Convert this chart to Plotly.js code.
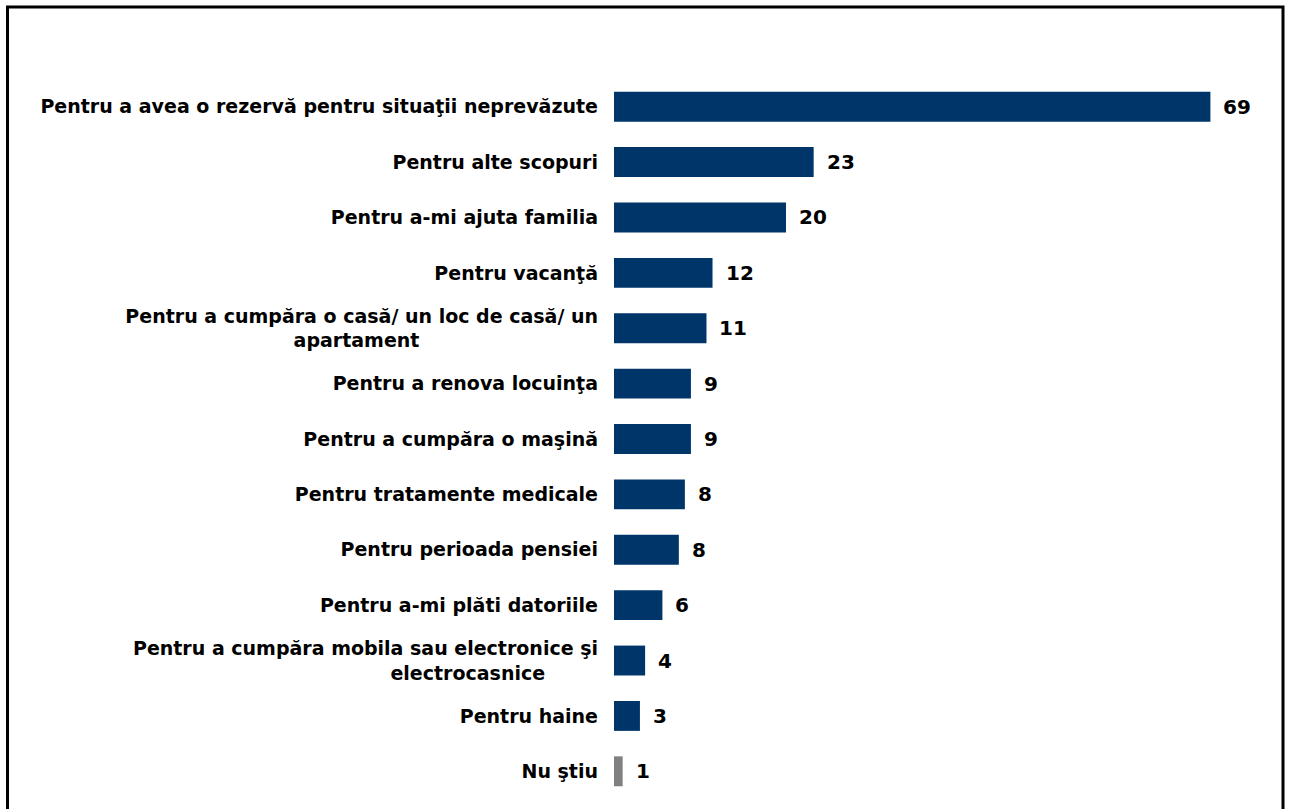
<!DOCTYPE html>
<html>
<head>
<meta charset="utf-8">
<script src="https://cdn.plot.ly/plotly-3.0.1.min.js"></script>
<style>
html,body{margin:0;padding:0;background:#fff;}
#chart{width:1293px;height:809px;}
</style>
</head>
<body>
<div id="chart"></div>
<script>
var categories = [
  "Pentru a avea o rezervă pentru situaţii neprevăzute",
  "Pentru alte scopuri",
  "Pentru a-mi ajuta familia",
  "Pentru vacanţă",
  "Pentru a cumpăra o casă/ un loc de casă/ un<br>apartament" + "\u00A0".repeat(27),
  "Pentru a renova locuinţa",
  "Pentru a cumpăra o maşină",
  "Pentru tratamente medicale",
  "Pentru perioada pensiei",
  "Pentru a-mi plăti datoriile",
  "Pentru a cumpăra mobila sau electronice şi<br>electrocasnice" + "\u00A0".repeat(8),
  "Pentru haine",
  "Nu ştiu"
];
var values = [69, 23.1, 19.9, 11.4, 10.7, 8.9, 8.9, 8.2, 7.5, 5.6, 3.6, 3.0, 1.0];
var valueLabels = ["69", "23", "20", "12", "11", "9", "9", "8", "8", "6", "4", "3", "1"];
var barColors = ["#00356a","#00356a","#00356a","#00356a","#00356a","#00356a","#00356a","#00356a","#00356a","#00356a","#00356a","#00356a","#808080"];

var ids = categories.map(function(c, i){ return "c" + i; });

var trace = {
  type: "bar",
  orientation: "h",
  x: values,
  y: ids,
  marker: {color: barColors},
  width: 0.54,
  hoverinfo: "none"
};

var annotations = values.map(function(v, i){
  return {
    x: v, y: ids[i], xref: "x", yref: "y",
    text: valueLabels[i], showarrow: false,
    xanchor: "left", yanchor: "middle", xshift: 11,
    font: {family: "DejaVu Sans", size: 20, color: "#000", weight: "bold"}
  };
});

var layout = {
  width: 1293, height: 809,
  margin: {l: 614, r: 10, t: 79, b: 10},
  paper_bgcolor: "#fff", plot_bgcolor: "#fff",
  showlegend: false,
  font: {family: "DejaVu Sans", color: "#000"},
  xaxis: {range: [0, 77.4], showgrid: false, zeroline: false, showticklabels: false, showline: false, fixedrange: true},
  yaxis: {
    type: "category", autorange: "reversed",
    tickvals: ids, ticktext: categories,
    showgrid: false, zeroline: false, showline: false, ticks: "",
    ticklabelstandoff: 15,
    tickfont: {family: "DejaVu Sans", size: 19, color: "#000", weight: "bold"}
  },
  annotations: annotations,
  shapes: [{
    type: "rect", xref: "paper", yref: "paper",
    x0: (7.5 - 614) / 669, x1: (1283 - 614) / 669,
    y0: -0.03, y1: (799 - 7) / 720,
    line: {color: "#000", width: 3}, fillcolor: "rgba(0,0,0,0)", layer: "above"
  }]
};

Plotly.newPlot("chart", [trace], layout, {displayModeBar: false, staticPlot: true});
</script>
</body>
</html>
